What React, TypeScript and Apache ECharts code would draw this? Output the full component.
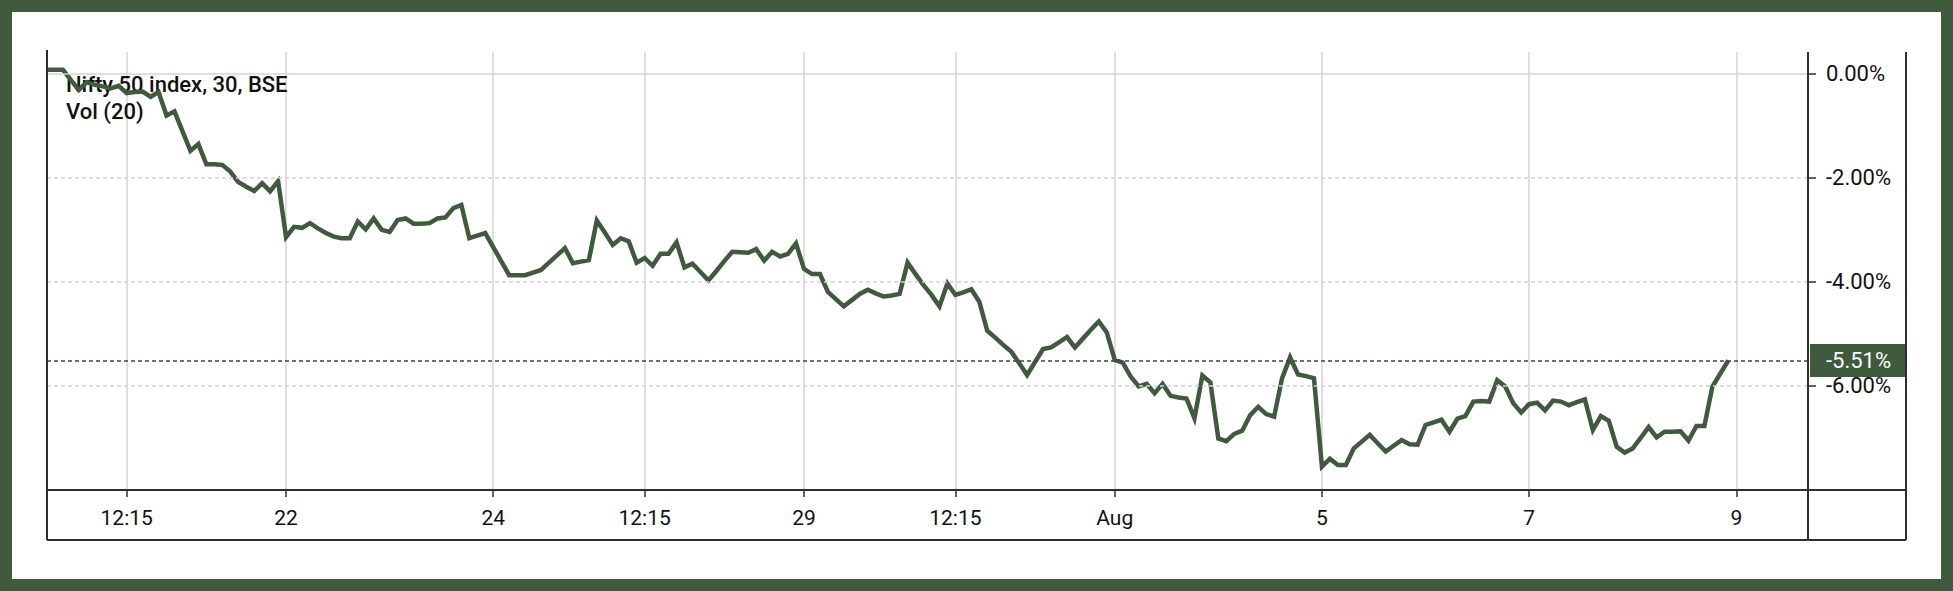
import React, { useEffect, useRef } from "react";
import * as echarts from "echarts";

// ---- axis definition (30-minute bars of the NSE session) ----
const SESSION_TIMES = ["09:15", "09:45", "10:15", "10:45", "11:15", "11:45", "12:15", "12:45", "13:15", "13:45", "14:15", "14:45", "15:15"];
const TRADING_DAYS = [
  "2024-07-16", "2024-07-18", "2024-07-19", "2024-07-22", "2024-07-23", "2024-07-24", "2024-07-25", "2024-07-26",
  "2024-07-29", "2024-07-30", "2024-07-31", "2024-08-01", "2024-08-02", "2024-08-05", "2024-08-06", "2024-08-07",
  "2024-08-08", "2024-08-09",
];
const FIRST_BAR = "2024-07-16 13:45";
const LAST_AXIS_BAR = "2024-08-09 13:45";

// ---- series: % change, one value per 30-minute bar ----
const changePct = [
  0.08, 0.08, 0.08, -0.12, -0.31, -0.16, -0.21, -0.24, -0.28, -0.23,
  -0.37, -0.35, -0.34, -0.44, -0.35, -0.8, -0.72, -1.1, -1.48, -1.35,
  -1.74, -1.74, -1.75, -1.88, -2.08, -2.17, -2.25, -2.1, -2.26, -2.06,
  -3.14, -2.94, -2.96, -2.87, -2.97, -3.06, -3.13, -3.16, -3.16, -2.84,
  -2.99, -2.78, -3.0, -3.04, -2.81, -2.78, -2.88, -2.88, -2.87, -2.78,
  -2.76, -2.58, -2.52, -3.16, -3.11, -3.06, -3.33, -3.6, -3.87, -3.87,
  -3.87, -3.82, -3.77, -3.63, -3.49, -3.35, -3.64, -3.61, -3.58, -2.82,
  -3.05, -3.29, -3.16, -3.22, -3.63, -3.54, -3.69, -3.46, -3.46, -3.24,
  -3.72, -3.65, -3.81, -3.97, -3.79, -3.6, -3.42, -3.43, -3.44, -3.37,
  -3.59, -3.42, -3.51, -3.46, -3.26, -3.75, -3.85, -3.85, -4.19, -4.33,
  -4.47, -4.35, -4.23, -4.15, -4.22, -4.28, -4.26, -4.23, -3.63, -3.85,
  -4.06, -4.25, -4.47, -4.03, -4.25, -4.2, -4.14, -4.38, -4.94, -5.07,
  -5.21, -5.34, -5.56, -5.79, -5.54, -5.29, -5.26, -5.16, -5.06, -5.26,
  -5.09, -4.92, -4.76, -4.97, -5.5, -5.55, -5.82, -6.01, -5.96, -6.14,
  -5.96, -6.19, -6.22, -6.24, -6.62, -5.8, -5.93, -7.01, -7.06, -6.92,
  -6.86, -6.56, -6.4, -6.54, -6.59, -5.85, -5.45, -5.78, -5.81, -5.85,
  -7.55, -7.4, -7.52, -7.52, -7.2, -7.07, -6.94, -7.1, -7.26, -7.15,
  -7.04, -7.12, -7.13, -6.75, -6.7, -6.65, -6.88, -6.63, -6.58, -6.3,
  -6.29, -6.3, -5.89, -6.01, -6.33, -6.51, -6.35, -6.32, -6.47, -6.28,
  -6.3, -6.37, -6.31, -6.26, -6.85, -6.58, -6.67, -7.17, -7.28, -7.2,
  -7.0, -6.79, -6.99, -6.88, -6.88, -6.87, -7.05, -6.77, -6.77, -6.01,
  -5.76, -5.51,
];

// ---- tick labels ----
const TICK_CATEGORIES = [
  "2024-07-18 12:15", "2024-07-22 09:15", "2024-07-24 09:15", "2024-07-25 12:15", "2024-07-29 09:15",
  "2024-07-30 12:15", "2024-08-01 09:15", "2024-08-05 09:15", "2024-08-07 09:15", "2024-08-09 09:15",
];
const TICK_LABELS = ["12:15", "22", "24", "12:15", "29", "12:15", "Aug", "5", "7", "9"];
const Y_TICKS = [0, -2, -4, -6];
const Y_MIN = -8;
const Y_MAX = 0.42;
const Y_INTERVAL = 2;
const LAST_CHANGE = -5.51;
const TITLE_LINES = ["Nifty 50 index, 30, BSE", "Vol (20)"];

const GREEN = "#405a3e";
const DARK = "#2e2e2e";
const GRID_GRAY = "#d4d4d4";
const FONT = "Roboto, 'DejaVu Sans', sans-serif";

export default function App() {
  const ref = useRef<HTMLDivElement>(null);

  useEffect(() => {
    document.body.style.margin = "0";
    document.body.style.overflow = "hidden";
    if (!ref.current) return;
    const chart = echarts.init(ref.current, undefined, { renderer: "svg" });

    const categories: string[] = [];
    for (const d of TRADING_DAYS) {
      for (const t of SESSION_TIMES) {
        const c = d + " " + t;
        if (c >= FIRST_BAR && c <= LAST_AXIS_BAR) categories.push(c);
      }
    }
    const labelMap: Record<string, string> = {};
    TICK_CATEGORIES.forEach((c, i) => (labelMap[c] = TICK_LABELS[i]));
    const isTick = (_i: number, v: string) => v in labelMap;

    const fmtPct = (v: number) => (v < 0 ? "-" : "") + Math.abs(v).toFixed(2) + "%";

    const gridLeft = 47;
    const gridTop = 52;
    const gridRight = 1808;
    const gridBottom = 490;
    const boxRight = 1906;
    const boxBottom = 540;

    const line = (x1: number, y1: number, x2: number, y2: number) => ({
      type: "line",
      z: 10,
      silent: true,
      shape: { x1, y1, x2, y2 },
      style: { stroke: DARK, lineWidth: 2 },
    });

    chart.setOption({
      animation: false,
      backgroundColor: "#ffffff",
      title: {
        text: TITLE_LINES.join("\n"),
        left: 66,
        top: 71,
        padding: 0,
        z: 1,
        textStyle: { fontFamily: FONT, fontSize: 22, fontWeight: 500, lineHeight: 27, color: "#111111" },
      },
      grid: {
        left: gridLeft,
        top: gridTop,
        width: gridRight - gridLeft,
        height: gridBottom - gridTop,
        outerBoundsMode: "none",
      },
      xAxis: {
        type: "category",
        data: categories,
        boundaryGap: false,
        position: "bottom",
        axisLine: { show: false, onZero: false },
        axisTick: { show: true, interval: isTick, length: 7, lineStyle: { color: DARK, width: 1.5 } },
        axisLabel: {
          interval: isTick,
          formatter: (v: string) => labelMap[v] || "",
          fontFamily: FONT,
          fontSize: 21,
          color: "#111111",
          margin: 17,
        },
        splitLine: { show: true, interval: isTick, lineStyle: { color: GRID_GRAY, width: 1.5 } },
      },
      yAxis: {
        type: "value",
        position: "right",
        min: Y_MIN,
        max: Y_MAX,
        interval: Y_INTERVAL,
        axisLine: { show: false, onZero: false },
        axisTick: { show: true, length: 8, customValues: Y_TICKS, lineStyle: { color: DARK, width: 1.5 } },
        axisLabel: {
          customValues: Y_TICKS,
          formatter: (v: number) => (Y_TICKS.includes(v) ? fmtPct(v) : ""),
          fontFamily: FONT,
          fontSize: 22,
          color: "#111111",
          margin: 18,
        },
        splitLine: { show: false },
      },
      series: [
        {
          type: "line",
          name: "grid",
          data: [],
          z: 1,
          silent: true,
          markLine: {
            silent: true,
            symbol: "none",
            animation: false,
            data: [
              ...Y_TICKS.map((v) => ({
                yAxis: v,
                label: { show: false },
                lineStyle: { color: GRID_GRAY, width: 1.5, type: v === 0 ? "solid" : [4, 3] },
              })),
              {
                yAxis: LAST_CHANGE,
                lineStyle: { color: "#3a4a39", width: 1.5, type: [4, 3] },
                label: {
                  show: true,
                  position: "end",
                  distance: 2,
                  formatter: fmtPct(LAST_CHANGE),
                  color: "#ffffff",
                  backgroundColor: GREEN,
                  fontFamily: FONT,
                  fontSize: 22,
                  lineHeight: 23,
                  width: 80,
                  align: "left",
                  padding: [5, 0, 5, 16],
                },
              },
            ],
          },
        },
        {
          type: "line",
          name: "change",
          data: changePct,
          z: 3,
          silent: true,
          showSymbol: false,
          symbol: "none",
          lineStyle: { color: GREEN, width: 4.5, join: "miter" },
          emphasis: { disabled: true },
        },
      ],
      graphic: [
        {
          type: "rect",
          z: 20,
          silent: true,
          shape: { x: 6, y: 6, width: 1941, height: 579 },
          style: { fill: "none", stroke: GREEN, lineWidth: 12 },
        },
        line(gridLeft, 50, gridLeft, boxBottom),
        line(gridLeft, boxBottom, boxRight, boxBottom),
        line(boxRight, gridTop, boxRight, boxBottom),
        line(gridRight, gridTop, gridRight, boxBottom),
        line(gridLeft, gridBottom, boxRight, gridBottom),
      ],
    });

    return () => chart.dispose();
  }, []);

  return <div ref={ref} style={{ width: 1953, height: 591 }} />;
}
